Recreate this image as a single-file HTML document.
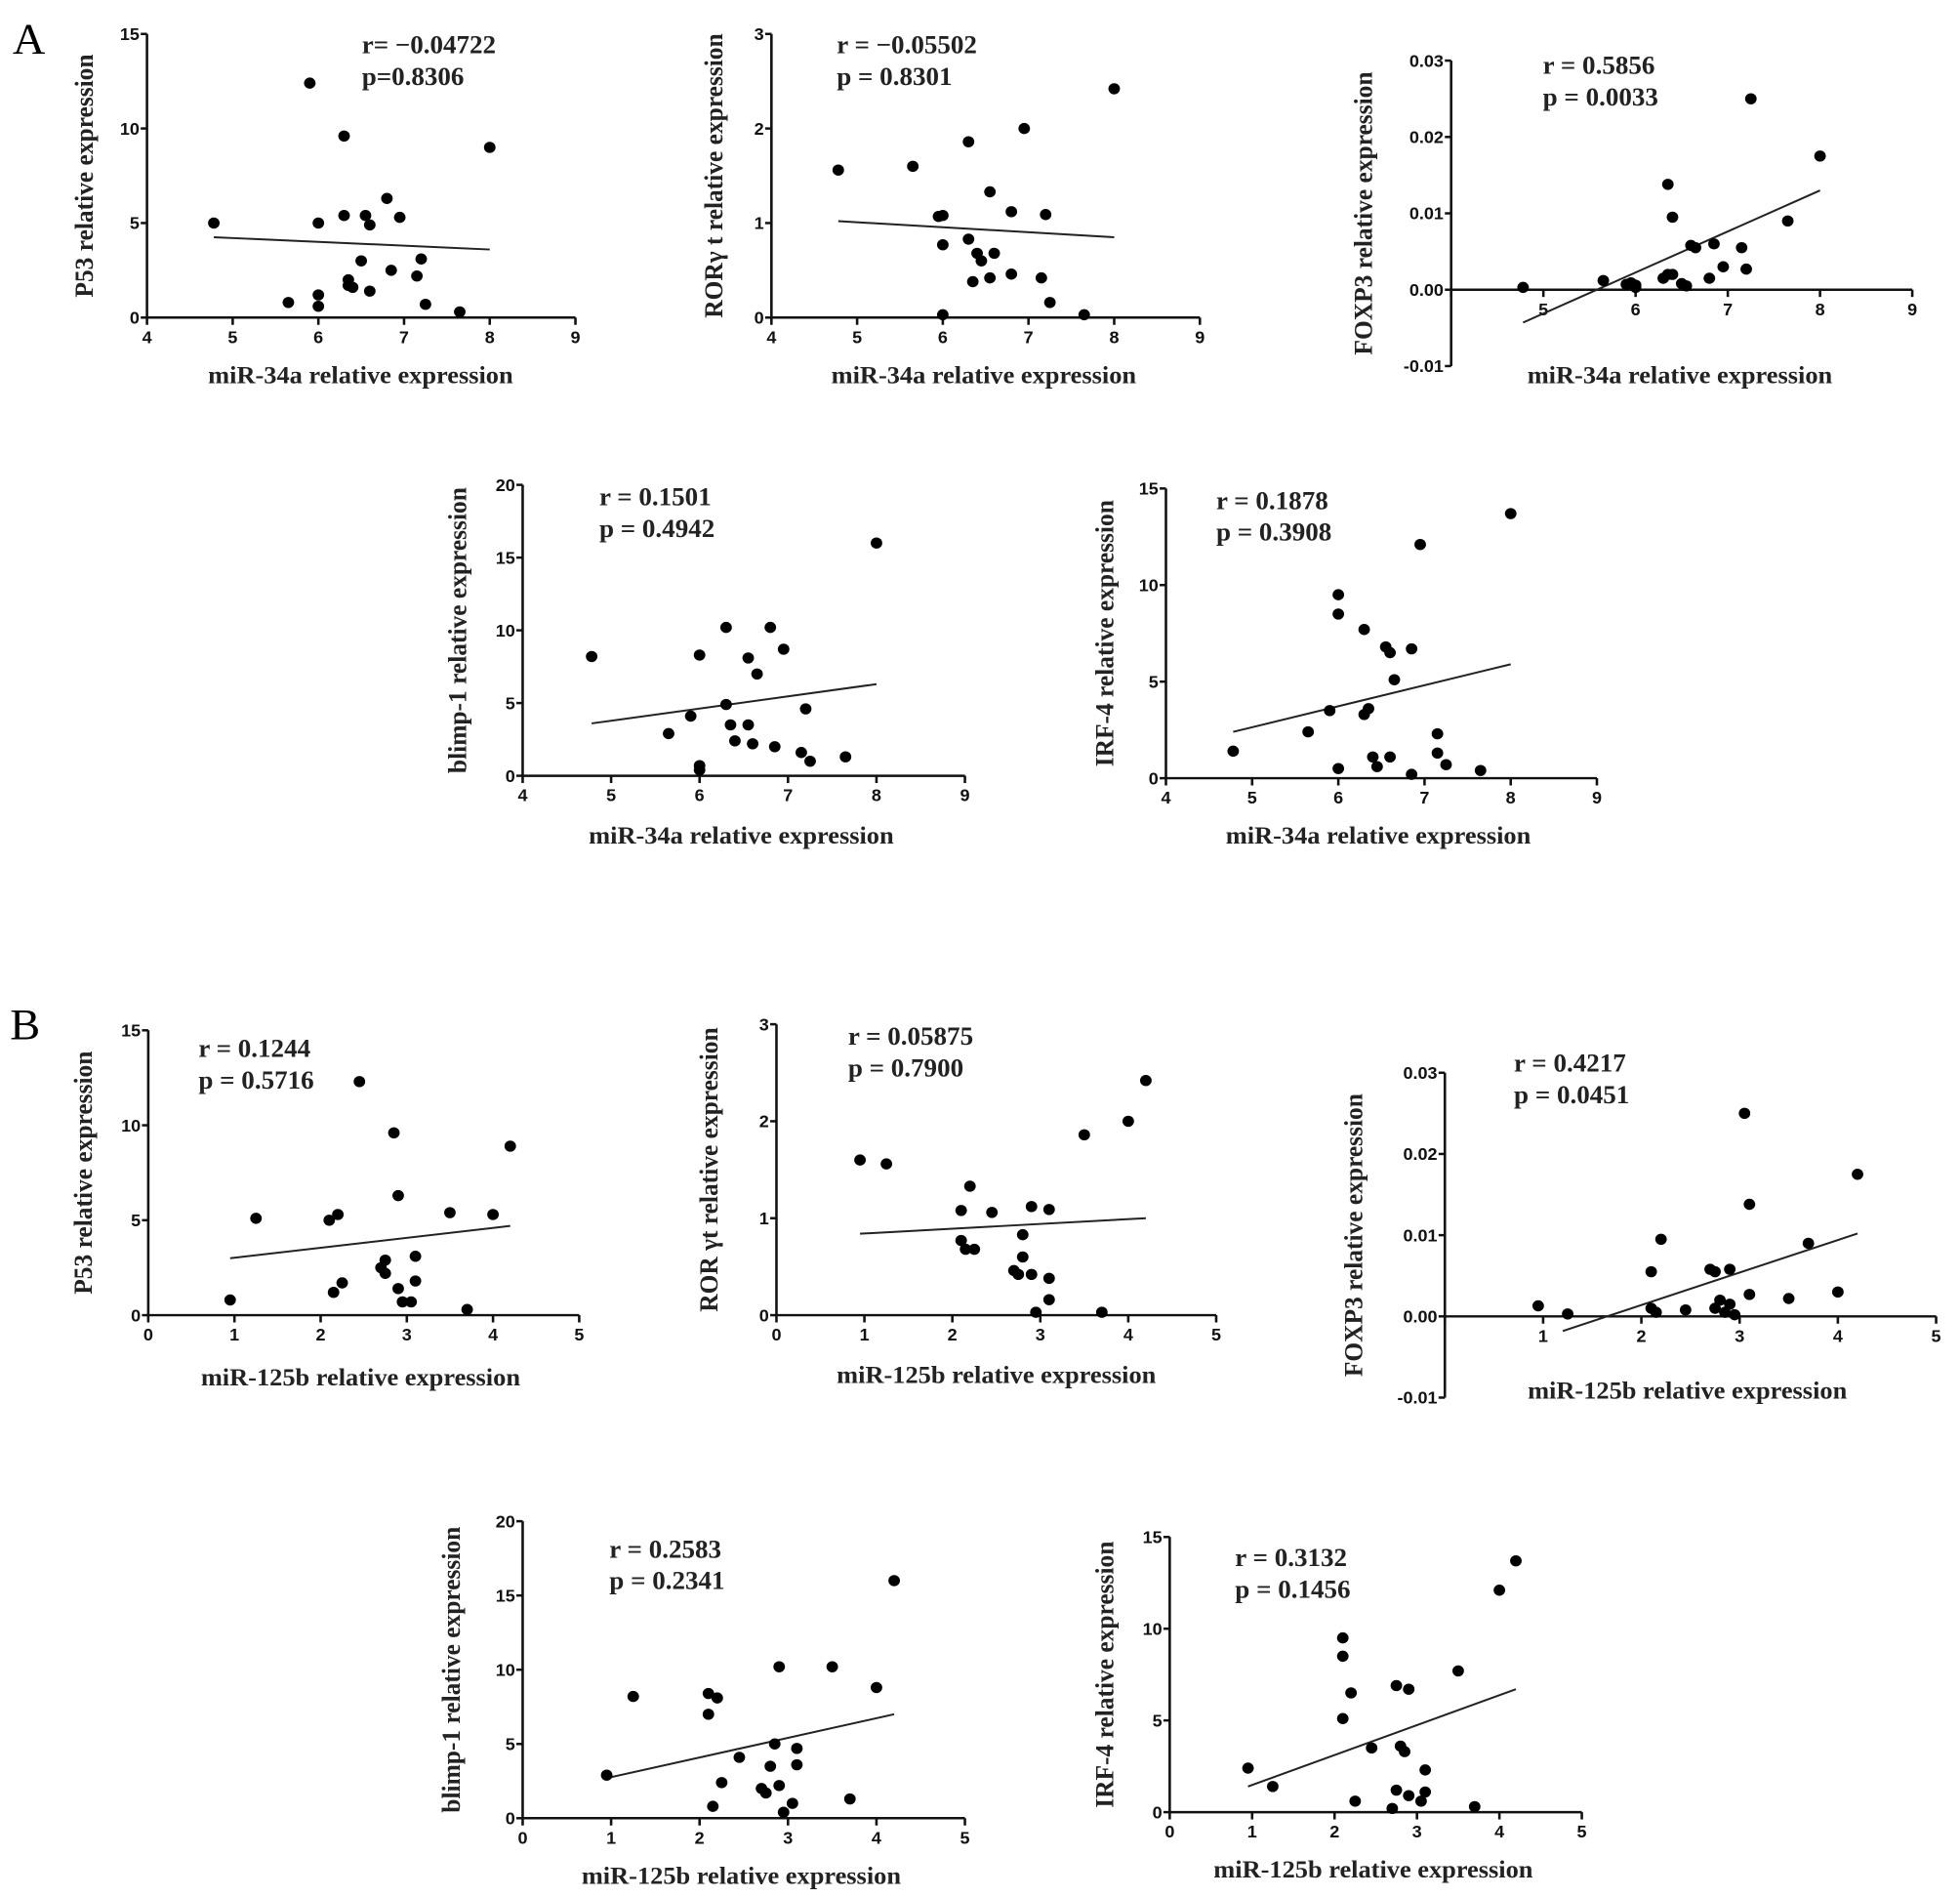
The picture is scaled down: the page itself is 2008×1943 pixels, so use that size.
<!DOCTYPE html>
<html><head><meta charset="utf-8"><style>
html,body{margin:0;padding:0;background:#fff;overflow:hidden;}
svg{display:block;}
.tk{font-family:"Liberation Sans",sans-serif;font-weight:bold;font-size:14px;fill:#111;}
.lb{font-family:"Liberation Serif",serif;font-weight:bold;font-size:20.5px;fill:#222;}
.st{font-family:"Liberation Serif",serif;font-weight:bold;font-size:21px;fill:#222;}
</style></head><body>
<svg id="fig" width="2008" height="1943" viewBox="0 0 1560 1565" preserveAspectRatio="none" xmlns="http://www.w3.org/2000/svg">
<text x="10" y="44" font-family="Liberation Serif,serif" font-size="36">A</text>
<text x="8" y="857" font-family="Liberation Serif,serif" font-size="36">B</text>
</svg>
<script>
// ---- data arrays ----
const a1X=[4.78,5.9,6.3,8.0,5.65,6.0,6.0,6.0,6.3,6.35,6.35,6.4,6.5,6.55,6.6,6.6,6.8,6.85,6.95,7.15,7.2,7.25,7.65];
const a1Y=[5.0,12.4,9.6,9.0,0.8,1.2,0.6,5.0,5.4,2.0,1.7,1.6,3.0,5.4,4.9,1.4,6.3,2.5,5.3,2.2,3.1,0.7,0.3];
const a1Fit=[4.78,4.25,8.0,3.6];
const a2X=[4.78,5.65,5.95,6.0,6.0,6.0,6.3,6.3,6.35,6.4,6.45,6.55,6.55,6.6,6.8,6.8,6.95,7.15,7.2,7.25,7.65,8.0];
const a2Y=[1.56,1.6,1.07,1.08,0.77,0.03,1.86,0.83,0.38,0.68,0.6,1.33,0.42,0.68,1.12,0.46,2.0,0.42,1.09,0.16,0.03,2.42];
const a2Fit=[4.78,1.02,8.0,0.85];
const a3X=[4.78,5.65,5.9,5.95,6.0,6.0,6.3,6.35,6.4,6.35,6.4,6.5,6.55,6.6,6.65,6.8,6.85,6.95,7.15,7.2,7.25,7.65,8.0];
const a3Y=[0.0003,0.0012,0.0007,0.0009,0.0003,0.0006,0.0015,0.002,0.002,0.0138,0.0095,0.0008,0.0005,0.0058,0.0055,0.0015,0.006,0.003,0.0055,0.0027,0.025,0.009,0.0175];
const a3Fit=[4.78,-0.0043,8.0,0.013];
const a4X=[4.78,5.65,5.9,6.0,6.0,6.0,6.3,6.3,6.35,6.4,6.55,6.55,6.6,6.65,6.8,6.85,6.95,7.15,7.2,7.25,7.65,8.0];
const a4Y=[8.2,2.9,4.1,8.3,0.7,0.4,10.2,4.9,3.5,2.4,3.5,8.1,2.2,7.0,10.2,2.0,8.7,1.6,4.6,1.0,1.3,16.0];
const a4Fit=[4.78,3.6,8.0,6.3];
const a5X=[4.78,5.65,5.9,6.0,6.0,6.0,6.3,6.3,6.35,6.4,6.45,6.55,6.6,6.6,6.65,6.85,6.85,6.95,7.15,7.15,7.25,7.65,8.0];
const a5Y=[1.4,2.4,3.5,9.5,8.5,0.5,7.7,3.3,3.6,1.1,0.6,6.8,6.5,1.1,5.1,6.7,0.2,12.1,2.3,1.3,0.7,0.4,13.7];
const a5Fit=[4.78,2.4,8.0,5.9];
const b1X=[0.95,1.25,2.1,2.15,2.2,2.25,2.45,2.7,2.75,2.75,2.85,2.9,2.9,2.95,3.05,3.1,3.1,3.5,3.7,4.0,4.2];
const b1Y=[0.8,5.1,5.0,1.2,5.3,1.7,12.3,2.5,2.2,2.9,9.6,6.3,1.4,0.7,0.7,1.8,3.1,5.4,0.3,5.3,8.9];
const b1Fit=[0.95,3.0,4.2,4.7];
const b2X=[0.95,1.25,2.1,2.1,2.15,2.2,2.25,2.45,2.7,2.75,2.8,2.8,2.9,2.9,2.95,3.1,3.1,3.1,3.5,3.7,4.0,4.2];
const b2Y=[1.6,1.56,1.08,0.77,0.68,1.33,0.68,1.06,0.46,0.42,0.6,0.83,1.12,0.42,0.03,1.09,0.16,0.38,1.86,0.03,2.0,2.42];
const b2Fit=[0.95,0.84,4.2,1.0];
const b3X=[0.95,1.25,2.1,2.1,2.15,2.2,2.45,2.7,2.75,2.75,2.8,2.85,2.9,2.9,2.95,3.05,3.1,3.1,3.5,3.7,4.0,4.2];
const b3Y=[0.0013,0.0003,0.0055,0.001,0.0005,0.0095,0.0008,0.0058,0.0055,0.001,0.002,0.0005,0.0058,0.0015,0.0002,0.025,0.0138,0.0027,0.0022,0.009,0.003,0.0175];
const b3Fit=[1.2,-0.0018,4.2,0.0102];
const b4X=[0.95,1.25,2.1,2.1,2.15,2.2,2.25,2.45,2.7,2.75,2.8,2.85,2.9,2.9,2.95,3.05,3.1,3.1,3.5,3.7,4.0,4.2];
const b4Y=[2.9,8.2,8.4,7.0,0.8,8.1,2.4,4.1,2.0,1.7,3.5,5.0,2.2,10.2,0.4,1.0,3.6,4.7,10.2,1.3,8.8,16.0];
const b4Fit=[0.95,2.7,4.2,7.0];
const b5X=[0.95,1.25,2.1,2.1,2.1,2.2,2.25,2.45,2.7,2.75,2.75,2.8,2.85,2.9,2.9,3.05,3.1,3.1,3.5,3.7,4.0,4.2];
const b5Y=[2.4,1.4,9.5,8.5,5.1,6.5,0.6,3.5,0.2,6.9,1.2,3.6,3.3,6.7,0.9,0.6,1.1,2.3,7.7,0.3,12.1,13.7];
const b5Fit=[0.95,1.4,4.2,6.7];
const ticksA=["4","5","6","7","8","9"];
const ticksB=["0","1","2","3","4","5"];
const yT15=["0","5","10","15"], yT3=["0","1","2","3"], yT20=["0","5","10","15","20"];
const yTF=["-0.01","0.00","0.01","0.02","0.03"];

const NS="http://www.w3.org/2000/svg";
const svg=document.getElementById('fig');
function mk(tag,attrs,parent){const e=document.createElementNS(NS,tag);for(const k in attrs)e.setAttribute(k,attrs[k]);(parent||svg).appendChild(e);return e;}
function panel(p){
  const g=mk('g',{});
  
  
  const xv=p.xt.map(Number), yv=p.yt.map(Number);
  const x0=xv[0],x1=xv[xv.length-1],y0=yv[0],y1=yv[yv.length-1];
  const sx=v=>p.L+(v-x0)/(x1-x0)*(p.R-p.L);
  const sy=v=>p.B-(v-y0)/(y1-y0)*(p.B-p.T);
  const zeroY=sy(Math.max(0,y0));
  const ya=mk('line',{x1:p.L,y1:p.T,x2:p.L,y2:p.B,stroke:'#111','stroke-width':2},g);
  
  
  const xa=mk('line',{x1:p.L,y1:zeroY,x2:p.R,y2:zeroY,stroke:'#111','stroke-width':2},g);
  
  
  p.yt.forEach((t,i)=>{const y=sy(yv[i]);
    mk('line',{x1:p.L-5,y1:y,x2:p.L,y2:y,stroke:'#111','stroke-width':2},g);
    const tx=mk('text',{x:p.L-6,y:y+5,'text-anchor':'end',class:'tk'},g);tx.textContent=t;
    
    
  });
  p.xt.forEach((t,i)=>{const x=sx(xv[i]);
    mk('line',{x1:x,y1:zeroY,x2:x,y2:zeroY+6,stroke:'#111','stroke-width':2},g);
    if(p.skipFirst&&i===0)return;
    const tx=mk('text',{x:x,y:zeroY+21,'text-anchor':'middle',class:'tk'},g);tx.textContent=t;
    
    
  });
  const fl=mk('line',{x1:sx(p.fit[0]),y1:sy(p.fit[1]),x2:sx(p.fit[2]),y2:sy(p.fit[3]),stroke:'#222','stroke-width':1.6},g);
  
  
  p.xs.forEach((x,i)=>{
    const c=mk('circle',{cx:sx(x),cy:sy(p.ys[i]),r:4.6,fill:'#000'},g);
    
    
  });
  const yl=mk('text',{x:p.ylx,y:(p.T+p.B)/2,'text-anchor':'middle',class:'lb',transform:`rotate(-90 ${p.ylx} ${(p.T+p.B)/2})`},g);
  yl.textContent=p.ylab;
  
  
  const xl=mk('text',{x:p.xlc,y:p.xly,'text-anchor':'middle',class:'lb'},g);
  xl.textContent=p.xlab;
  
  
  p.st.forEach((s,i)=>{const t=mk('text',{x:p.stx,y:p.sty+i*26,class:'st'},g);t.textContent=s;
    
    });
}
const xA="miR-34a relative expression", xB="miR-125b relative expression";
panel({id:'a1',L:117,R:458,T:28,B:262,xt:ticksA,yt:yT15,xs:a1X,ys:a1Y,fit:a1Fit,ylab:'P53 relative expression',ylx:74,xlab:xA,xlc:287,xly:316,st:['r= \u22120.04722','p=0.8306'],stx:288,sty:44});
panel({id:'a2',L:614,R:955,T:28,B:262,xt:ticksA,yt:yT3,xs:a2X,ys:a2Y,fit:a2Fit,ylab:'ROR\u03b3 t relative expression',ylx:575,xlab:xA,xlc:783,xly:316,st:['r = \u22120.05502','p = 0.8301'],stx:666,sty:44});
panel({id:'a3',L:1155,R:1522,T:50,B:302,xt:ticksA,yt:yTF,xs:a3X,ys:a3Y,fit:a3Fit,skipFirst:true,ylab:'FOXP3 relative expression',ylx:1092,xlab:xA,xlc:1337,xly:316,st:['r = 0.5856','p = 0.0033'],stx:1228,sty:61});
panel({id:'a4',L:416,R:768,T:400,B:640,xt:ticksA,yt:yT20,xs:a4X,ys:a4Y,fit:a4Fit,ylab:'blimp-1 relative expression',ylx:371,xlab:xA,xlc:590,xly:696,st:['r = 0.1501','p = 0.4942'],stx:477,sty:417});
panel({id:'a5',L:928,R:1271,T:403,B:642,xt:ticksA,yt:yT15,xs:a5X,ys:a5Y,fit:a5Fit,ylab:'IRF-4 relative expression',ylx:886,xlab:xA,xlc:1097,xly:696,st:['r = 0.1878','p = 0.3908'],stx:968,sty:420});
panel({id:'b1',L:118,R:461,T:850,B:1085,xt:ticksB,yt:yT15,xs:b1X,ys:b1Y,fit:b1Fit,ylab:'P53 relative expression',ylx:73,xlab:xB,xlc:287,xly:1143,st:['r = 0.1244','p = 0.5716'],stx:158,sty:872});
panel({id:'b2',L:618,R:968,T:845,B:1085,xt:ticksB,yt:yT3,xs:b2X,ys:b2Y,fit:b2Fit,ylab:'ROR \u03b3t relative expression',ylx:571,xlab:xB,xlc:793,xly:1141,st:['r = 0.05875','p = 0.7900'],stx:675,sty:862});
panel({id:'b3',L:1150,R:1541,T:885,B:1153,xt:ticksB,yt:yTF,xs:b3X,ys:b3Y,fit:b3Fit,skipFirst:true,ylab:'FOXP3 relative expression',ylx:1084,xlab:xB,xlc:1343,xly:1154,st:['r = 0.4217','p = 0.0451'],stx:1205,sty:884});
panel({id:'b4',L:416,R:768,T:1255,B:1500,xt:ticksB,yt:yT20,xs:b4X,ys:b4Y,fit:b4Fit,ylab:'blimp-1 relative expression',ylx:366,xlab:xB,xlc:590,xly:1554,st:['r = 0.2583','p = 0.2341'],stx:485,sty:1285});
panel({id:'b5',L:931,R:1259,T:1268,B:1495,xt:ticksB,yt:yT15,xs:b5X,ys:b5Y,fit:b5Fit,ylab:'IRF-4 relative expression',ylx:886,xlab:xB,xlc:1093,xly:1549,st:['r = 0.3132','p = 0.1456'],stx:983,sty:1292});
</script>
</body></html>
